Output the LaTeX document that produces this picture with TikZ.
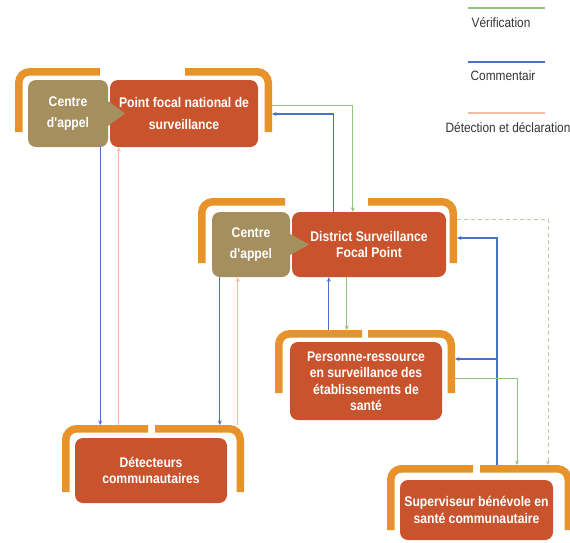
\documentclass[tikz,border=0pt]{standalone}
\usepackage{fontspec}
\setmainfont{Liberation Sans}
\newfontfamily\boxfont{Liberation Sans}[FakeStretch=0.87]
\newfontfamily\keyfont{Liberation Sans}[FakeStretch=0.88]
\usetikzlibrary{calc,arrows.meta}

\definecolor{redbox}{HTML}{C9532C}
\definecolor{tanbox}{HTML}{A68F5E}
\definecolor{orangebr}{HTML}{E8922B}
\definecolor{fbblue}{HTML}{4C6FC8}
\definecolor{vergreen}{HTML}{93C47D}
\definecolor{detsalmon}{HTML}{F2BBA6}
\definecolor{dashgreen}{HTML}{B5CDA8}
\definecolor{keytext}{HTML}{333333}

% Orange bracket pair above a group: left piece and right piece
\newcommand{\twinbracket}[3]{%
  \draw[bracket] ($(#1.south west)+(3.75,0)$) -- ($(#1.north west)+(3.75,3.75)$) -- ($(#1.north west)+(#2,3.75)$);
  \draw[bracket] ($(#1.south east)+(-3.75,0)$) -- ($(#1.north east)+(-3.75,3.75)$) -- ($(#1.north west)+(#3,3.75)$);
}

\begin{document}
\begin{tikzpicture}[x=1pt,y=-1pt,
  box/.style={fill=redbox, rounded corners=8pt, text=white, align=center, inner sep=0pt,
              font=\boxfont\bfseries\fontsize{14}{16.5}\selectfont},
  callbox/.style={box, fill=tanbox},
  grp/.style={inner sep=0pt, outer sep=0pt},
  bracket/.style={draw=orangebr, line width=7.5pt, rounded corners=11pt},
  tip/.style={-{Stealth[length=4.5pt,width=4pt]}},
  comment/.style={tip, draw=fbblue, line width=1.3pt},
  verif/.style={tip, draw=vergreen, line width=0.9pt},
  detect/.style={tip, draw=detsalmon, line width=0.9pt},
  verifdash/.style={tip, draw=dashgreen, line width=0.9pt, dash pattern=on 4pt off 3pt},
  keyline/.style={line width=1.1pt},
  keylabel/.style={text=keytext, font=\keyfont\fontsize{13.5}{16}\selectfont, inner sep=0pt}
]
\useasboundingbox (0,0) rectangle (570,542);

% ---- legend ----
\draw[keyline, vergreen] (468,8) -- (545,8);
\node[keylabel] (kVer) at (501,23) {Vérification};
\draw[keyline, fbblue] (468,62) -- (545,62);
\node[keylabel] (kCom) at (503,76) {Commentair};
\draw[keyline, detsalmon] (468,113) -- (545,113);
\node[keylabel] (kDet) at (508,128) {Détection et déclaration};

% ---- group extents (bracket outlines) ----
\node[grp, minimum width=257pt, minimum height=64pt] (gNat) at (143.5,100) {};
\node[grp, minimum width=259pt, minimum height=65pt] (gDis) at (327.5,230.5) {};
\node[grp, minimum width=180pt, minimum height=63pt] (gPer) at (365,361.5) {};
\node[grp, minimum width=182pt, minimum height=67pt] (gDet) at (153,458.5) {};
\node[grp, minimum width=185pt, minimum height=65pt] (gSup) at (479.5,497.5) {};

\twinbracket{gNat}{85}{170}
\twinbracket{gDis}{87}{170}
\twinbracket{gPer}{87}{93}
\twinbracket{gDet}{86}{93}
\twinbracket{gSup}{86}{93}

% ---- boxes ----
\node[callbox, minimum width=80pt, minimum height=67pt] (natC) at (68,113.5)
  {Centre\\[5pt]d'appel};
\node[box, minimum width=148pt, minimum height=67pt] (natR) at (184,113.5)
  {Point focal national de\\[5pt]surveillance};
\fill[tanbox] ($(natC.east)+(-1,-13)$) -- ($(natC.east)+(17,0)$) -- ($(natC.east)+(-1,13)$) -- cycle;

\node[callbox, minimum width=78pt, minimum height=65pt] (disC) at (251,244.5)
  {Centre\\[5pt]d'appel};
\node[box, minimum width=154pt, minimum height=65pt] (disR) at (369,244.5)
  {District Surveillance\\Focal Point};
\fill[tanbox] ($(disC.east)+(-1,-11)$) -- ($(disC.east)+(19,0)$) -- ($(disC.east)+(-1,11)$) -- cycle;

\node[box, minimum width=152pt, minimum height=78pt] (per) at (366,381)
  {Personne-ressource\\en surveillance des\\établissements de\\santé};
\node[box, minimum width=152pt, minimum height=65pt] (det) at (151,470.5)
  {Détecteurs\\communautaires};
\node[box, minimum width=153pt, minimum height=60pt] (sup) at (476.5,510)
  {Superviseur bénévole en\\santé communautaire};

% ---- national <-> community detectors ----
\coordinate (nb) at ($(natC.south east)+(-8,0)$);
\draw[comment] (nb) -- (nb |- gDet.north);
\coordinate (ns) at ($(natR.south west)+(9,0)$);
\draw[detect] (ns |- gDet.north) -- (ns);

% ---- district call centre <-> community detectors ----
\coordinate (db) at ($(disC.south west)+(8,0)$);
\draw[comment] (db) -- (db |- gDet.north);
\coordinate (ds) at ($(disC.south west)+(26,0)$);
\draw[detect] (ds |- gDet.north) -- (ds);

% ---- national <-> district ----
\coordinate (nv) at ($(gNat.east)+(0,5)$);
\coordinate (dv) at ($(disR.north west)+(61,0)$);
\draw[verif] (nv) -| (dv);
\coordinate (dc) at ($(disR.north west)+(42,0)$);
\coordinate (nc) at ($(gNat.east)+(0,14)$);
\draw[comment] (dc) |- (nc);

% ---- district <-> health facility focal person ----
\coordinate (pc) at ($(disR.south west)+(37,0)$);
\draw[comment] (pc |- gPer.north) -- (pc);
\coordinate (pv) at ($(disR.south west)+(55,0)$);
\draw[verif] (pv) -- (pv |- gPer.north);

% ---- supervisor links ----
\coordinate (dd) at ($(gDis.east)+(0,-11.5)$);
\coordinate (sd) at ($(gSup.north west)+(161,0)$);
\draw[verifdash] (dd) -| (sd);

\coordinate (sc) at ($(gSup.north west)+(110,0)$);
\coordinate (dce) at ($(gDis.east)+(0,7.5)$);
\draw[comment] (sc) |- (dce);
\coordinate (pce) at ($(gPer.east)+(0,-2.5)$);
\draw[comment] (sc |- pce) -- (pce);

\coordinate (pve) at ($(gPer.east)+(0,16.5)$);
\coordinate (sv) at ($(gSup.north west)+(130,0)$);
\draw[verif] (pve) -| (sv);
\end{tikzpicture}
\end{document}
